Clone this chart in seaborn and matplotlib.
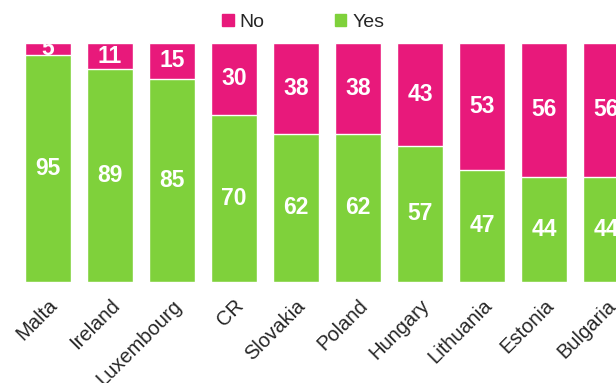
import pandas as pd
import seaborn as sns
import matplotlib.pyplot as plt
from matplotlib.patches import Patch

# Dados
countries = ['Malta', 'Ireland', 'Luxembourg', 'CR', 'Slovakia', 'Poland',
             'Hungary', 'Lithuania', 'Estonia', 'Bulgaria']
yes = [95, 89, 85, 70, 62, 62, 57, 47, 44, 44]
no = [5, 11, 15, 30, 38, 38, 43, 53, 56, 56]

green = '#7fd13b'
pink = '#e8197b'

df = pd.DataFrame({'country': countries, 'yes': yes, 'no': no})
df['total'] = df['yes'] + df['no']

sns.set_style('white')
plt.rcParams['font.family'] = ['Liberation Sans', 'DejaVu Sans']

fig = plt.figure(figsize=(6.16, 3.83), dpi=100)
ax = fig.add_axes([17 / 616, 101 / 383, 620 / 616, 239 / 383])

# Barras empilhadas: total (rosa) por baixo, "Yes" (verde) por cima
sns.barplot(data=df, x='country', y='total', color=pink, saturation=1,
            width=0.74, ax=ax)
sns.barplot(data=df, x='country', y='yes', color=green, saturation=1,
            width=0.74, ax=ax)

for i, row in df.iterrows():
    ax.text(i, row['yes'] / 2, str(row['yes']), ha='center', va='center',
            color='white', fontsize=16.5, fontweight='bold')
    ax.text(i, row['yes'] + row['no'] / 2, str(row['no']), ha='center',
            va='center', color='white', fontsize=16.5, fontweight='bold')

ax.set_xlim(-0.5, 9.5)
ax.set_ylim(0, 100)
ax.set_xlabel('')
ax.set_ylabel('')
ax.set_yticks([])
ax.tick_params(axis='x', length=0, pad=10)
plt.setp(ax.get_xticklabels(), rotation=45, ha='right',
         rotation_mode='anchor', fontsize=14.5)
sns.despine(ax=ax, left=True, bottom=True)

handles = [Patch(color=pink, label='No'), Patch(color=green, label='Yes')]
fig.legend(handles=handles, loc='upper center', ncol=2, frameon=False,
           fontsize=14, handlelength=0.6, handleheight=0.6,
           handletextpad=0.3, columnspacing=3.6,
           bbox_to_anchor=(0.492, 1.01))

fig.savefig('out.png', dpi=100)
